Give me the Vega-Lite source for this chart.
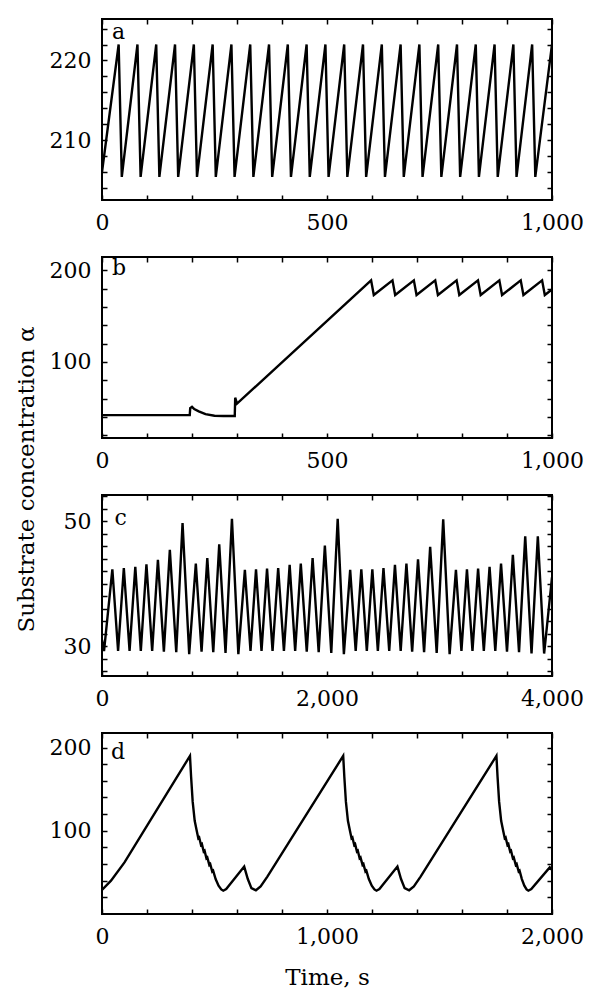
{
  "$schema": "https://vega.github.io/schema/vega-lite/v6.json",
  "background": "white",
  "padding": {"left": 13, "top": 16, "right": 5, "bottom": 5},
  "autosize": {"type": "pad"},
  "bounds": "flush",
  "spacing": 57,
  "config": {
    "view": {"stroke": "black", "strokeWidth": 2},
    "font": "DejaVu Serif",
    "axis": {
      "labelFont": "DejaVu Serif", "labelFontSize": 22, "labelColor": "black",
      "titleFont": "DejaVu Serif", "titleFontSize": 23, "titleFontWeight": "normal", "titleColor": "black",
      "domain": false, "grid": false, "tickColor": "black", "tickWidth": 1.5, "tickSize": -5, "tickCount": 100,
      "labelFlush": false, "labelOverlap": false, "labelBound": false
    },
    "axisX": {"labelPadding": 17},
    "axisY": {"labelPadding": 16}
  },
  "datasets": {
    "a": [
      {"t": 0, "v": 206}, {"t": 37, "v": 222}, {"t": 44, "v": 205.4}, {"t": 78.8, "v": 222}, {"t": 85.8, "v": 205.4},
      {"t": 120.5, "v": 222}, {"t": 127.5, "v": 205.4}, {"t": 162.3, "v": 222}, {"t": 169.3, "v": 205.4},
      {"t": 204.1, "v": 222}, {"t": 211.1, "v": 205.4}, {"t": 245.9, "v": 222}, {"t": 252.9, "v": 205.4},
      {"t": 287.6, "v": 222}, {"t": 294.6, "v": 205.4}, {"t": 329.4, "v": 222}, {"t": 336.4, "v": 205.4},
      {"t": 371.2, "v": 222}, {"t": 378.2, "v": 205.4}, {"t": 412.9, "v": 222}, {"t": 419.9, "v": 205.4},
      {"t": 454.7, "v": 222}, {"t": 461.7, "v": 205.4}, {"t": 496.5, "v": 222}, {"t": 503.5, "v": 205.4},
      {"t": 538.2, "v": 222}, {"t": 545.2, "v": 205.4}, {"t": 580, "v": 222}, {"t": 587, "v": 205.4},
      {"t": 621.8, "v": 222}, {"t": 628.8, "v": 205.4}, {"t": 663.6, "v": 222}, {"t": 670.6, "v": 205.4},
      {"t": 705.3, "v": 222}, {"t": 712.3, "v": 205.4}, {"t": 747.1, "v": 222}, {"t": 754.1, "v": 205.4},
      {"t": 788.9, "v": 222}, {"t": 795.9, "v": 205.4}, {"t": 830.6, "v": 222}, {"t": 837.6, "v": 205.4},
      {"t": 872.4, "v": 222}, {"t": 879.4, "v": 205.4}, {"t": 914.2, "v": 222}, {"t": 921.2, "v": 205.4},
      {"t": 955.9, "v": 222}, {"t": 962.9, "v": 205.4}, {"t": 1000, "v": 222}
    ],
    "b": [
      {"t": 0, "v": 42}, {"t": 195, "v": 42}, {"t": 196, "v": 49.5}, {"t": 200, "v": 51}, {"t": 205, "v": 48.5},
      {"t": 215, "v": 46}, {"t": 230, "v": 43}, {"t": 250, "v": 41.3}, {"t": 270, "v": 41}, {"t": 295, "v": 41},
      {"t": 296, "v": 61}, {"t": 300, "v": 54.5}, {"t": 598, "v": 189}, {"t": 604, "v": 173},
      {"t": 645.5, "v": 189}, {"t": 651.5, "v": 173}, {"t": 693, "v": 189}, {"t": 699, "v": 173},
      {"t": 740.5, "v": 189}, {"t": 746.5, "v": 173}, {"t": 788, "v": 189}, {"t": 794, "v": 173},
      {"t": 835.5, "v": 189}, {"t": 841.5, "v": 173}, {"t": 883, "v": 189}, {"t": 889, "v": 173},
      {"t": 930.5, "v": 189}, {"t": 936.5, "v": 173}, {"t": 978, "v": 189}, {"t": 984, "v": 173},
      {"t": 1000, "v": 179}
    ],
    "c": [
      {"t": 0, "v": 31}, {"t": 18, "v": 29.2}, {"t": 92, "v": 42.3}, {"t": 143, "v": 29.2}, {"t": 194, "v": 42.5},
      {"t": 245, "v": 29.2}, {"t": 296, "v": 42.7}, {"t": 345, "v": 29.2}, {"t": 395, "v": 43.1}, {"t": 446, "v": 29.2},
      {"t": 497, "v": 43.8}, {"t": 550, "v": 29.1}, {"t": 603, "v": 45.4}, {"t": 660, "v": 29.0}, {"t": 716, "v": 49.7},
      {"t": 775, "v": 28.7}, {"t": 834, "v": 43.2}, {"t": 885, "v": 29.1}, {"t": 936, "v": 44.1}, {"t": 989, "v": 29.0},
      {"t": 1042, "v": 46.3}, {"t": 1098, "v": 28.9}, {"t": 1155, "v": 50.4}, {"t": 1212, "v": 28.7}, {"t": 1270, "v": 42.2},
      {"t": 1320, "v": 29.2}, {"t": 1369, "v": 42.3}, {"t": 1418, "v": 29.2}, {"t": 1467, "v": 42.4}, {"t": 1516, "v": 29.2},
      {"t": 1566, "v": 42.5}, {"t": 1617, "v": 29.2}, {"t": 1668, "v": 43.0}, {"t": 1717, "v": 29.2}, {"t": 1767, "v": 43.2},
      {"t": 1820, "v": 29.1}, {"t": 1872, "v": 44.1}, {"t": 1926, "v": 29.0}, {"t": 1981, "v": 46.1}, {"t": 2038, "v": 28.9},
      {"t": 2095, "v": 50.4}, {"t": 2150, "v": 28.7}, {"t": 2206, "v": 42.2}, {"t": 2255, "v": 29.2}, {"t": 2305, "v": 42.3},
      {"t": 2354, "v": 29.2}, {"t": 2403, "v": 42.3}, {"t": 2452, "v": 29.2}, {"t": 2502, "v": 42.5}, {"t": 2553, "v": 29.2},
      {"t": 2604, "v": 43.0}, {"t": 2655, "v": 29.2}, {"t": 2706, "v": 43.2}, {"t": 2757, "v": 29.1}, {"t": 2809, "v": 43.9},
      {"t": 2863, "v": 29.0}, {"t": 2917, "v": 45.9}, {"t": 2975, "v": 28.9}, {"t": 3033, "v": 50.3}, {"t": 3090, "v": 28.7},
      {"t": 3146, "v": 42.2}, {"t": 3195, "v": 29.2}, {"t": 3244, "v": 42.3}, {"t": 3293, "v": 29.2}, {"t": 3343, "v": 42.4},
      {"t": 3394, "v": 29.2}, {"t": 3445, "v": 42.7}, {"t": 3496, "v": 29.2}, {"t": 3547, "v": 43.2}, {"t": 3600, "v": 29.1},
      {"t": 3652, "v": 44.6}, {"t": 3707, "v": 29.0}, {"t": 3762, "v": 47.6}, {"t": 3818, "v": 28.8}, {"t": 3874, "v": 47.6},
      {"t": 3930, "v": 28.8}, {"t": 4000, "v": 41}
    ],
    "d": [
      {"t": 0, "v": 29}, {"t": 40, "v": 40}, {"t": 100, "v": 62}, {"t": 391, "v": 190},
      {"t": 396, "v": 165}, {"t": 403, "v": 135}, {"t": 412, "v": 112}, {"t": 421, "v": 100}, {"t": 428, "v": 91},
      {"t": 432, "v": 92}, {"t": 440, "v": 83}, {"t": 444, "v": 84}, {"t": 452, "v": 75}, {"t": 456, "v": 76},
      {"t": 464, "v": 67}, {"t": 468, "v": 68}, {"t": 477, "v": 59}, {"t": 481, "v": 60}, {"t": 490, "v": 51},
      {"t": 494, "v": 52}, {"t": 505, "v": 42}, {"t": 518, "v": 34}, {"t": 530, "v": 29.5}, {"t": 539, "v": 28},
      {"t": 552, "v": 30}, {"t": 632, "v": 57}, {"t": 648, "v": 42}, {"t": 664, "v": 31}, {"t": 684, "v": 28.5},
      {"t": 705, "v": 33}, {"t": 735, "v": 45}, {"t": 1072, "v": 190},
      {"t": 1077, "v": 165}, {"t": 1084, "v": 135}, {"t": 1093, "v": 112}, {"t": 1102, "v": 100}, {"t": 1109, "v": 91},
      {"t": 1113, "v": 92}, {"t": 1121, "v": 83}, {"t": 1125, "v": 84}, {"t": 1133, "v": 75}, {"t": 1137, "v": 76},
      {"t": 1145, "v": 67}, {"t": 1149, "v": 68}, {"t": 1158, "v": 59}, {"t": 1162, "v": 60}, {"t": 1171, "v": 51},
      {"t": 1175, "v": 52}, {"t": 1186, "v": 42}, {"t": 1199, "v": 34}, {"t": 1211, "v": 29.5}, {"t": 1220, "v": 28},
      {"t": 1233, "v": 30}, {"t": 1313, "v": 57}, {"t": 1329, "v": 42}, {"t": 1345, "v": 31}, {"t": 1365, "v": 28.5},
      {"t": 1386, "v": 33}, {"t": 1416, "v": 45}, {"t": 1753, "v": 190},
      {"t": 1758, "v": 165}, {"t": 1765, "v": 135}, {"t": 1774, "v": 112}, {"t": 1783, "v": 100}, {"t": 1790, "v": 91},
      {"t": 1794, "v": 92}, {"t": 1802, "v": 83}, {"t": 1806, "v": 84}, {"t": 1814, "v": 75}, {"t": 1818, "v": 76},
      {"t": 1826, "v": 67}, {"t": 1830, "v": 68}, {"t": 1839, "v": 59}, {"t": 1843, "v": 60}, {"t": 1852, "v": 51},
      {"t": 1856, "v": 52}, {"t": 1866, "v": 42}, {"t": 1877, "v": 34}, {"t": 1887, "v": 29.5}, {"t": 1895, "v": 28},
      {"t": 1908, "v": 30}, {"t": 1990, "v": 56}, {"t": 2000, "v": 53}
    ]
  },
  "vconcat": [
    {
      "width": 450, "height": 181,
      "resolve": {"axis": {"x": "independent", "y": "independent"}},
      "layer": [
        {
          "data": {"name": "a"},
          "mark": {"type": "line", "color": "black", "strokeWidth": 2.4, "clip": true},
          "encoding": {
            "x": {"field": "t", "type": "quantitative", "scale": {"domain": [0, 1000], "nice": false, "zero": false},
              "axis": {"title": null, "values": [0, 100, 200, 300, 400, 500, 600, 700, 800, 900, 1000],
                "labelExpr": "datum.value % 500 === 0 ? format(datum.value, ',') : ''"}},
            "y": {"field": "v", "type": "quantitative", "scale": {"domain": [202.5, 225.2], "nice": false, "zero": false},
              "axis": {"title": null, "values": [204, 206, 208, 210, 212, 214, 216, 218, 220, 222, 224],
                "labelExpr": "datum.value % 10 === 0 ? '' + datum.value : ''"}}
          }
        },
        {
          "data": {"values": [{}]},
          "mark": {"type": "text", "text": "a", "align": "left", "baseline": "alphabetic", "fontSize": 22, "font": "DejaVu Serif", "color": "black"},
          "encoding": {
            "x": {"datum": 22, "type": "quantitative", "axis": {"orient": "top", "labels": false, "title": null, "values": [0, 100, 200, 300, 400, 500, 600, 700, 800, 900, 1000]}},
            "y": {"datum": 222.7, "type": "quantitative", "axis": {"orient": "right", "labels": false, "title": null, "values": [204, 206, 208, 210, 212, 214, 216, 218, 220, 222, 224]}}
          }
        }
      ]
    },
    {
      "width": 450, "height": 181,
      "resolve": {"axis": {"x": "independent", "y": "independent"}},
      "layer": [
        {
          "data": {"name": "b"},
          "mark": {"type": "line", "color": "black", "strokeWidth": 2.4, "clip": true},
          "encoding": {
            "x": {"field": "t", "type": "quantitative", "scale": {"domain": [0, 1000], "nice": false, "zero": false},
              "axis": {"title": null, "values": [0, 100, 200, 300, 400, 500, 600, 700, 800, 900, 1000],
                "labelExpr": "datum.value % 500 === 0 ? format(datum.value, ',') : ''"}},
            "y": {"field": "v", "type": "quantitative", "scale": {"domain": [17, 214.5], "nice": false, "zero": false},
              "axis": {"title": null, "values": [20, 40, 60, 80, 100, 120, 140, 160, 180, 200],
                "labelExpr": "datum.value % 100 === 0 ? '' + datum.value : ''"}}
          }
        },
        {
          "data": {"values": [{}]},
          "mark": {"type": "text", "text": "b", "align": "left", "baseline": "alphabetic", "fontSize": 22, "font": "DejaVu Serif", "color": "black"},
          "encoding": {
            "x": {"datum": 22, "type": "quantitative", "axis": {"orient": "top", "labels": false, "title": null, "values": [0, 100, 200, 300, 400, 500, 600, 700, 800, 900, 1000]}},
            "y": {"datum": 194.5, "type": "quantitative", "axis": {"orient": "right", "labels": false, "title": null, "values": [20, 40, 60, 80, 100, 120, 140, 160, 180, 200]}}
          }
        }
      ]
    },
    {
      "width": 450, "height": 181,
      "resolve": {"axis": {"x": "independent", "y": "independent"}},
      "layer": [
        {
          "data": {"name": "c"},
          "mark": {"type": "line", "color": "black", "strokeWidth": 2.4, "clip": true},
          "encoding": {
            "x": {"field": "t", "type": "quantitative", "scale": {"domain": [0, 4000], "nice": false, "zero": false},
              "axis": {"title": null, "values": [0, 400, 800, 1200, 1600, 2000, 2400, 2800, 3200, 3600, 4000],
                "labelExpr": "datum.value % 2000 === 0 ? format(datum.value, ',') : ''"}},
            "y": {"field": "v", "type": "quantitative", "scale": {"domain": [25.2, 54.2], "nice": false, "zero": false},
              "axis": {"title": "Substrate concentration α", "titleX": -76, "titleY": -16, "titleAngle": 270,
                "titleAlign": "center", "titleBaseline": "middle",
                "values": [26, 28, 30, 32, 34, 36, 38, 40, 42, 44, 46, 48, 50, 52, 54],
                "labelExpr": "datum.value === 30 || datum.value === 50 ? '' + datum.value : ''"}}
          }
        },
        {
          "data": {"values": [{}]},
          "mark": {"type": "text", "text": "c", "align": "left", "baseline": "alphabetic", "fontSize": 22, "font": "DejaVu Serif", "color": "black"},
          "encoding": {
            "x": {"datum": 110, "type": "quantitative", "axis": {"orient": "top", "labels": false, "title": null, "values": [0, 400, 800, 1200, 1600, 2000, 2400, 2800, 3200, 3600, 4000]}},
            "y": {"datum": 49.4, "type": "quantitative", "axis": {"orient": "right", "labels": false, "title": null, "values": [26, 28, 30, 32, 34, 36, 38, 40, 42, 44, 46, 48, 50, 52, 54]}}
          }
        }
      ]
    },
    {
      "width": 450, "height": 181,
      "resolve": {"axis": {"x": "independent", "y": "independent"}},
      "layer": [
        {
          "data": {"name": "d"},
          "mark": {"type": "line", "color": "black", "strokeWidth": 2.4, "clip": true},
          "encoding": {
            "x": {"field": "t", "type": "quantitative", "scale": {"domain": [0, 2000], "nice": false, "zero": false},
              "axis": {"title": "Time, s", "titleY": 70, "titleBaseline": "alphabetic",
                "values": [0, 200, 400, 600, 800, 1000, 1200, 1400, 1600, 1800, 2000],
                "labelExpr": "datum.value % 1000 === 0 ? format(datum.value, ',') : ''"}},
            "y": {"field": "v", "type": "quantitative", "scale": {"domain": [0, 217.5], "nice": false, "zero": false},
              "axis": {"title": null, "values": [20, 40, 60, 80, 100, 120, 140, 160, 180, 200],
                "labelExpr": "datum.value % 100 === 0 ? '' + datum.value : ''"}}
          }
        },
        {
          "data": {"values": [{}]},
          "mark": {"type": "text", "text": "d", "align": "left", "baseline": "alphabetic", "fontSize": 22, "font": "DejaVu Serif", "color": "black"},
          "encoding": {
            "x": {"datum": 40, "type": "quantitative", "axis": {"orient": "top", "labels": false, "title": null, "values": [0, 200, 400, 600, 800, 1000, 1200, 1400, 1600, 1800, 2000]}},
            "y": {"datum": 186, "type": "quantitative", "axis": {"orient": "right", "labels": false, "title": null, "values": [20, 40, 60, 80, 100, 120, 140, 160, 180, 200]}}
          }
        }
      ]
    }
  ]
}
